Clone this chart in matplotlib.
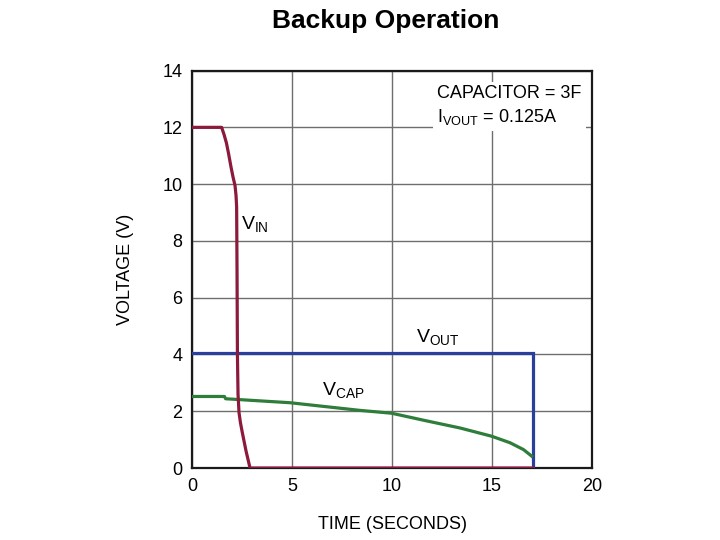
import matplotlib
matplotlib.use("Agg")
import matplotlib.pyplot as plt
from matplotlib import font_manager

names = {f.name for f in font_manager.fontManager.ttflist}
fam = "Liberation Sans Narrow" if "Liberation Sans Narrow" in names else "Liberation Sans"
plt.rcParams['font.family'] = [fam, 'DejaVu Sans']
plt.rcParams['mathtext.fontset'] = 'custom'
plt.rcParams['mathtext.rm'] = fam
plt.rcParams['mathtext.it'] = fam

# Data
vin_t = [0, 1.48, 1.6, 1.72, 1.82, 1.95, 2.05, 2.15, 2.2, 2.23, 2.25, 2.27,
         2.3, 2.35, 2.42, 2.5, 2.6, 2.7, 2.8, 2.9, 17.05]
vin_v = [12, 12, 11.75, 11.45, 11.1, 10.6, 10.25, 9.95, 9.6, 9.2, 7.0, 4.0,
         2.6, 1.95, 1.6, 1.3, 0.95, 0.6, 0.3, 0.0, 0.0]

vout_t = [0, 17.05, 17.05]
vout_v = [4.05, 4.05, 0.0]

vcap_t = [0, 1.62, 1.68, 4.9, 8.4, 9.98, 11.73, 13.4, 14.98, 15.9, 16.57, 16.98]
vcap_v = [2.52, 2.52, 2.44, 2.30, 2.03, 1.93, 1.66, 1.41, 1.12, 0.89, 0.65, 0.42]

x_ticks = [0, 5, 10, 15, 20]
y_ticks = [0, 2, 4, 6, 8, 10, 12, 14]

fig = plt.figure(figsize=(7.2, 5.4), dpi=100)
ax = fig.add_axes([0.2667, 0.1333, 0.5556, 0.736])

ax.plot(vout_t, vout_v, color='#2a3f9c', lw=2.3, solid_joinstyle='miter', zorder=3)
ax.plot(vcap_t, vcap_v, color='#2e7d3a', lw=2.3, zorder=3)
ax.plot(vin_t, vin_v, color='#8c1a3c', lw=2.3, zorder=4)

ax.set_xlim(0, 20)
ax.set_ylim(0, 14)
ax.set_xticks(x_ticks)
ax.set_yticks(y_ticks)
ax.grid(True, color='#6e6e6e', lw=1.0)
ax.set_axisbelow(True)
ax.tick_params(length=0, labelsize=13, pad=7)
for s in ax.spines.values():
    s.set_linewidth(1.6)
    s.set_color('#1a1a1a')

ax.set_xlabel('TIME (SECONDS)', fontsize=13, labelpad=15)
ax.set_ylabel('VOLTAGE (V)', fontsize=13, labelpad=20)
fig.text(0.535, 0.962, 'Backup Operation', ha='center', va='center',
         fontsize=19, fontweight='bold')

ax.text(2.45, 8.6, r'$\mathregular{V_{IN}}$', fontsize=14, ha='left', va='center')
ax.text(11.2, 4.6, r'$\mathregular{V_{OUT}}$', fontsize=14, ha='left', va='center')
ax.text(6.5, 2.75, r'$\mathregular{V_{CAP}}$', fontsize=14, ha='left', va='center')

ax.text(12.25, 12.75, 'CAPACITOR = 3F\n' + r'$\mathregular{I_{VOUT}}$ = 0.125A',
        fontsize=13, ha='left', va='center', linespacing=1.35,
        bbox=dict(facecolor='white', edgecolor='none', pad=3), zorder=5)

fig.savefig('out.png', dpi=100)
